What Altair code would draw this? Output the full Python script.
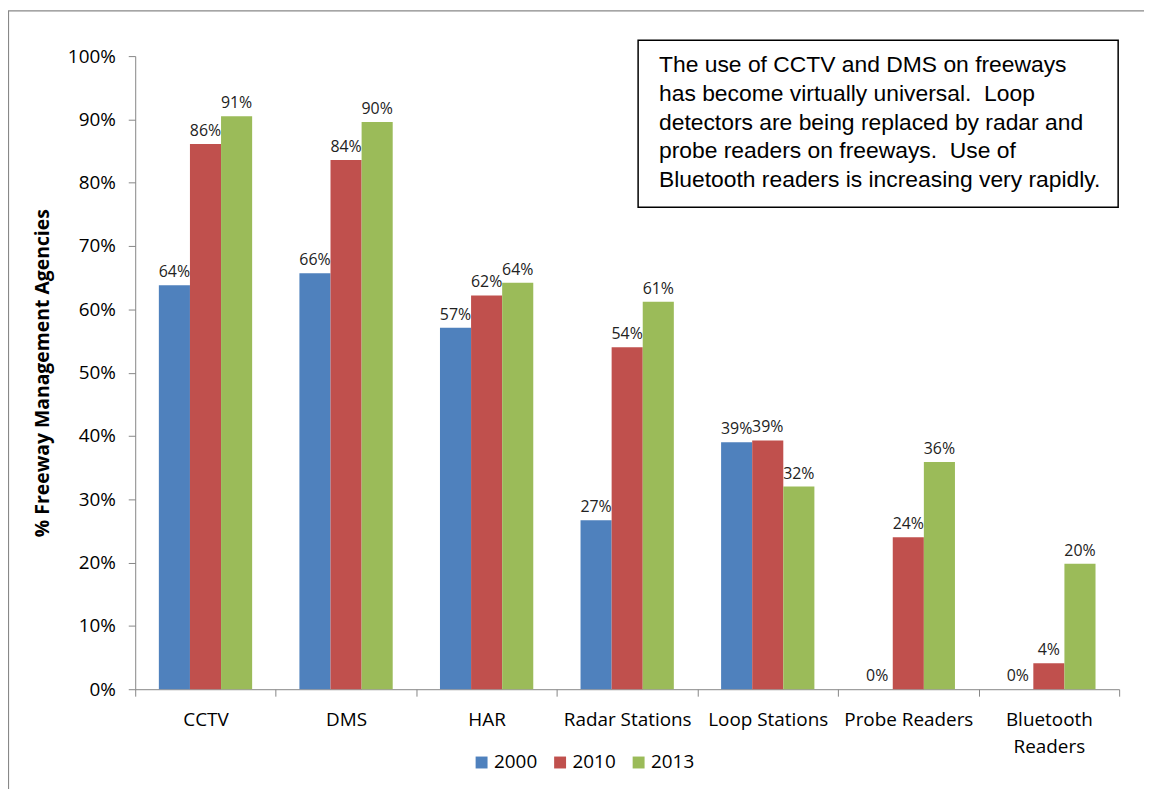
import altair as alt
import pandas as pd

categories = ["CCTV", "DMS", "HAR", "Radar Stations", "Loop Stations", "Probe Readers", "Bluetooth Readers"]
years = ["2000", "2010", "2013"]
v2000 = [63.8, 65.7, 57.1, 26.7, 39.0, 0.0, 0.0]
v2010 = [86.1, 83.6, 62.2, 54.0, 39.3, 24.0, 4.1]
v2013 = [90.5, 89.6, 64.2, 61.2, 32.0, 35.9, 19.8]
labels2000 = ["64%", "66%", "57%", "27%", "39%", "0%", "0%"]
labels2010 = ["86%", "84%", "62%", "54%", "39%", "24%", "4%"]
labels2013 = ["91%", "90%", "64%", "61%", "32%", "36%", "20%"]
colors = ["#4F81BD", "#C0504D", "#9BBB59"]
NB = "\u00a0"
note_lines = [
    "The use of CCTV and DMS on freeways",
    "has become virtually universal." + NB + NB + "Loop",
    "detectors are being replaced by radar and",
    "probe readers on freeways." + NB + NB + "Use of",
    "Bluetooth readers is increasing very rapidly.",
]

rows = []
for vals, labs, yr in [(v2000, labels2000, "2000"), (v2010, labels2010, "2010"), (v2013, labels2013, "2013")]:
    for c, v, l in zip(categories, vals, labs):
        rows.append({"cat": c, "year": yr, "value": v, "label": l})
df = pd.DataFrame(rows)

W, H = 990, 637
FONT = "Open Sans"

x = alt.X("cat:N", sort=categories, title=None,
          scale=alt.Scale(paddingInner=0, paddingOuter=0),
          axis=alt.Axis(tickBand="extent", labelAngle=0, labelFontSize=19, labelFont=FONT,
                        labelColor="#000", labelPadding=15, tickSize=7, domainColor="#868686",
                        tickColor="#868686", labelLineHeight=27,
                        labelExpr="datum.label == 'Bluetooth Readers' ? ['Bluetooth', 'Readers'] : datum.label"))
y = alt.Y("value:Q", title="% Freeway Management Agencies",
          scale=alt.Scale(domain=[0, 100], nice=False),
          axis=alt.Axis(values=list(range(0, 101, 10)), labelExpr="datum.value + '%'", grid=False,
                        labelFontSize=19, labelFont=FONT, labelColor="#000", labelPadding=13,
                        tickSize=7, domainColor="#868686", tickColor="#868686",
                        titleFont=FONT, titleFontSize=19.5, titleFontWeight="bold", titleColor="#000",
                        titlePadding=15))
xo = alt.XOffset("year:N", sort=years, scale=alt.Scale(paddingInner=0, paddingOuter=0.76))

bars = alt.Chart(df).mark_bar().encode(
    x=x, y=y, xOffset=xo,
    color=alt.Color("year:N", sort=years, scale=alt.Scale(domain=years, range=colors),
                    legend=alt.Legend(title=None, orient="none", legendX=339, legendY=701,
                                      direction="horizontal", symbolType="square", symbolSize=144,
                                      symbolStrokeWidth=0, labelFontSize=19, labelFont=FONT,
                                      labelColor="#000", columnPadding=13, labelOffset=3)),
)

texts = alt.Chart(df).mark_text(baseline="bottom", dy=-5, fontSize=16, font=FONT, color="#222").encode(
    x=alt.X("cat:N", sort=categories),
    xOffset=xo,
    y="value:Q",
    text="label:N",
)

note_df = pd.DataFrame({"t": [note_lines]})
box = alt.Chart(note_df).mark_rect(fill="white", stroke="#000", strokeWidth=1.5).encode(
    x=alt.value(506), x2=alt.value(989), y=alt.value(-16), y2=alt.value(152))
note = alt.Chart(note_df).mark_text(align="left", baseline="middle", fontSize=23,
                                     font="Liberation Sans", color="#000", lineHeight=29).encode(
    x=alt.value(527), y=alt.value(9), text="t")

frame = alt.Chart(note_df).mark_rect(fill=None, stroke="#888", strokeWidth=1.2).encode(
    x=alt.value(-127.5), x2=alt.value(1100), y=alt.value(-45.5), y2=alt.value(800))

chart = alt.layer(frame, bars, texts, box, note).properties(
    width=W, height=H,
    autosize=alt.AutoSizeParams(type="none"),
    padding={"left": 128, "top": 46, "right": 25, "bottom": 98},
).configure_view(stroke=None)

chart.save("out.html", embed_options={"renderer": "svg", "actions": False})
